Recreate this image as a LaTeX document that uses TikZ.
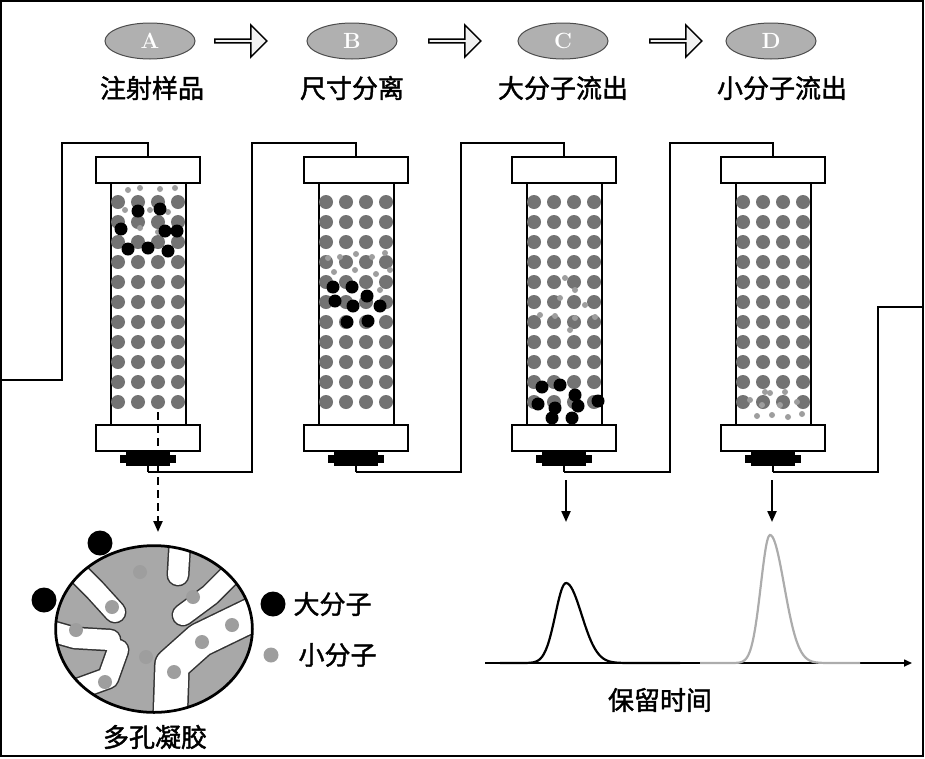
\documentclass[tikz,border=0pt]{standalone}
\usepackage{fontspec}
\newfontfamily\cjk[FakeBold=1.6]{Noto Sans CJK SC}
\usetikzlibrary{arrows.meta,shapes.arrows,shapes.geometric}
\definecolor{bead}{gray}{0.45}
\definecolor{sm}{gray}{0.62}
\definecolor{gel}{gray}{0.66}
\tikzset{
 lbl/.style={font=\cjk\fontsize{26}{30}\selectfont},
 pipe/.style={line width=2.6pt,black},
 capbox/.style={draw,line width=2.2pt,fill=white,minimum width=104pt,minimum height=26pt,inner sep=0},
 tube/.style={draw,line width=2pt,fill=white,minimum width=75pt,minimum height=242pt,inner sep=0},
 oval/.style={ellipse,draw=gray!60!black,line width=1pt,fill=gray!62,minimum width=90pt,minimum height=36pt,font=\fontsize{22}{24}\selectfont\bfseries,text=white},
 blk/.style={single arrow,draw,line width=1.5pt,fill=gray!10,minimum width=32pt,single arrow head extend=6pt,minimum height=52pt,inner sep=0},
 bigdot/.style={fill=black},
 smdot/.style={fill=sm},
}
\begin{document}
\begin{tikzpicture}[x=1pt,y=-1pt]
\useasboundingbox (0,0) rectangle (925,758);
\draw[line width=2pt] (1,1) rectangle (923,756);
% top row
\foreach \n/\x/\t/\tx in {A/150/注射样品/152,B/352/尺寸分离/352,C/563/大分子流出/563,D/771/小分子流出/782}{
 \node[oval] (o\n) at (\x,41) {\n};
 \node[lbl] (l\n) at (\tx,88) {\t};
}
\node[blk] (ar1) at (240,41) {};
\node[blk] (ar2) at (454,41) {};
\node[blk] (ar3) at (675,41) {};
% columns
\foreach \i/\c in {1/148,2/356,3/564,4/773}{
 \node[tube] (t\i) at (\c,304) {};
 \node[capbox] (ct\i) at (\c,170) {};
 \node[capbox] (cb\i) at (\c,438) {};
 \fill (\c-28,455) rectangle (\c+28,463);
 \fill (\c-22,452) rectangle (\c+22,466);
 \coordinate (in\i) at (\c,143);
 \coordinate (out\i) at (\c,472);
 \foreach \r in {0,...,10}{
  \foreach \k in {0,...,3}{
   \fill[bead] (\c-30+20*\k,202+20*\r) circle (7);
  }
 }
}
% molecules column 1
\foreach \p in {(128,190),(140,188),(160,189),(175,188),(125,210),(150,210),(168,212),(140,228),(158,232),(130,248),(170,253),(150,248)}\fill[smdot] \p circle (3);
\foreach \p in {(138,211),(160,209),(121,229),(165,231),(177,231),(128,249),(148,248),(168,251)}\fill[bigdot] \p circle (6.5);
% col2
\foreach \p in {(328,258),(340,257),(356,254),(372,257),(385,253),(334,272),(355,270),(376,274),(330,290),(390,270),(380,290)}\fill[smdot] \p circle (3);
\foreach \p in {(333,287),(352,287),(367,296),(335,301),(353,306),(380,306),(347,322),(368,321)}\fill[bigdot] \p circle (6.5);
% col3
\foreach \p in {(565,278),(575,290),(560,298),(585,305),(540,315),(555,316),(575,318),(595,317),(570,330)}\fill[smdot] \p circle (3);
\foreach \p in {(542,387),(560,385),(575,395),(538,404),(555,408),(578,406),(598,401),(572,418),(552,418)}\fill[bigdot] \p circle (6.5);
% col4
\foreach \p in {(770,393),(785,392),(750,400),(762,405),(780,405),(797,402),(757,416),(772,415),(788,417),(802,414),(765,392)}\fill[smdot] \p circle (3);
% pipes
\coordinate (s0) at (0,380);
\draw[pipe] (s0) -- (62,380) -- (62,143) -- (in1) -- (ct1.north);
\draw[pipe] (out1) -- (252,472) |- (in2) -- (ct2.north);
\draw[pipe] (out2) -- (461,472) |- (in3) -- (ct3.north);
\draw[pipe] (out3) -- (670,472) |- (in4) -- (ct4.north);
\coordinate (e4) at (923,307);
\draw[pipe] (out4) -- (878,472) |- (e4);
\draw[pipe] (out1) -- (cb1.south);
\draw[pipe] (out2) -- (cb2.south);
\draw[pipe] (out3) -- (cb3.south);
\draw[pipe] (out4) -- (cb4.south);
% gel
\node[ellipse,draw,line width=1.5pt,fill=gel,minimum width=198pt,minimum height=168pt,inner sep=0] (gel) at (154,629) {};
\begin{scope}
\clip (154,629) ellipse (98 and 83);
\foreach \w/\c in {23/black!80,20/white}{
\draw[line width=\w pt,color=\c,line cap=round,line join=round] (70,565) -- (95,590) -- (115,612);
\draw[line width=\w pt,color=\c,line cap=round] (180,540) -- (178,575);
\draw[line width=\w pt,color=\c,line cap=round,line join=round] (240,565) -- (210,595) -- (183,615);
\draw[line width=\w pt,color=\c,line cap=round,line join=round] (40,628) -- (75,638) -- (110,640);
\draw[line width=\w pt,color=\c,line cap=round,line join=round] (118,650) -- (108,678) -- (75,690);
}
\draw[line width=36pt,color=black!80,line join=round] (170,725) -- (172,665) -- (200,640) -- (262,610);
\draw[line width=33pt,color=white,line join=round] (170,725) -- (172,665) -- (200,640) -- (262,610);
\end{scope}
\draw[line width=2pt] (154,629) ellipse (98 and 83);
\foreach \p in {(140,572),(112,607),(76,630),(193,597),(146,657),(105,682),(202,642),(232,625),(174,672)}\fill[smdot] \p circle (7);
\fill[bigdot] (100,543) circle (12.5);
\fill[bigdot] (44,600) circle (12.5);
\node[circle,fill=black,minimum size=25pt,inner sep=0] (lb) at (273,604) {};
\node[circle,fill=sm,minimum size=15pt,inner sep=0] (ls) at (271,655) {};
\node[lbl,right] (tb) at (290,604) {大分子};
\node[lbl,right] (ts) at (295,655) {小分子};
\node[lbl] (tgel) at (155,737) {多孔凝胶};
% arrows
\coordinate (d1) at (158,412);
\coordinate (d2) at (158,532);
\draw[line width=2.2pt,dash pattern=on 8pt off 5pt,-{Triangle[length=11pt,width=9pt]}] (d1) -- (d2);
\coordinate (a3) at (566,522);
\coordinate (a4) at (772,522);
\draw[line width=2.2pt,-{Triangle[length=11pt,width=9pt]}] (566,480) -- (a3);
\draw[line width=2.2pt,-{Triangle[length=11pt,width=9pt]}] (772,480) -- (a4);
% chromatogram
\coordinate (ax0) at (485,663);
\coordinate (ax1) at (912,663);
\draw[line width=1.6pt,-{Triangle[length=8pt,width=7pt]}] (ax0) -- (ax1);
\draw[line width=2.2pt,domain=500:680,samples=120,smooth] plot (\x,{663-80*exp(-((\x-566)/(\x<566?15:22))^2)});
\draw[line width=2.2pt,gray!65,domain=700:860,samples=120,smooth] plot (\x,{663-128*exp(-((\x-770)/(\x<770?13:20))^2)});
\node[lbl] (tt) at (660,700) {保留时间};
\end{tikzpicture}
\end{document}
